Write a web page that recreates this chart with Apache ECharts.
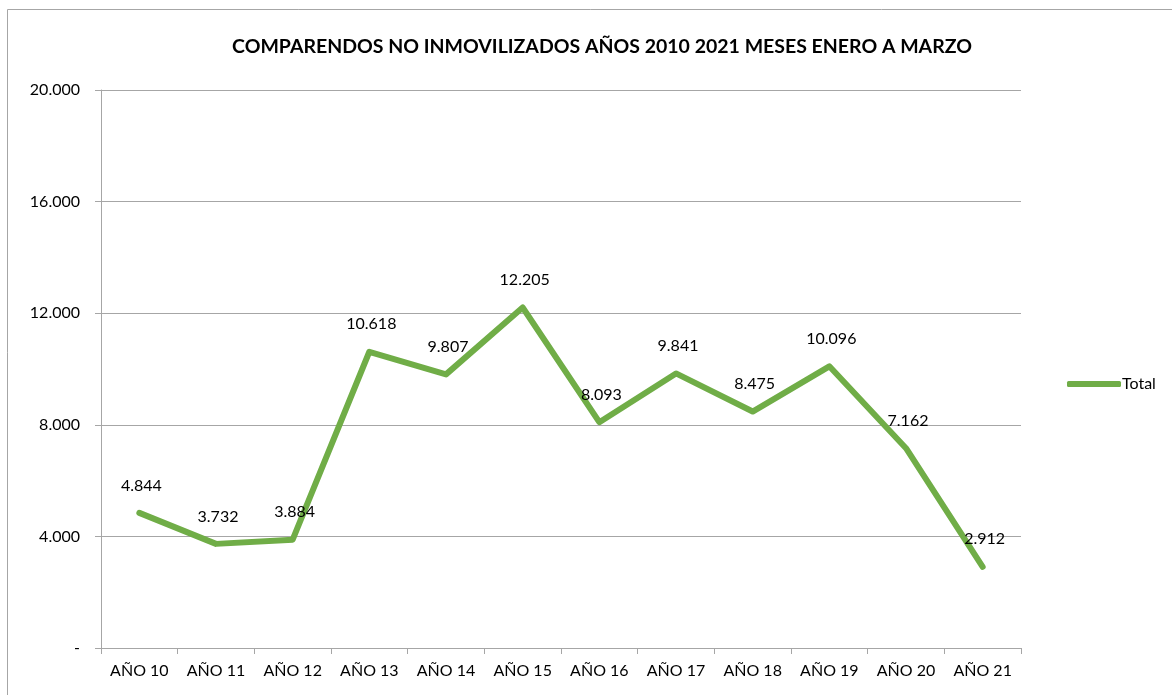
<!DOCTYPE html>
<html>
<head>
<meta charset="utf-8">
<script src="https://cdn.jsdelivr.net/npm/echarts@6/dist/echarts.min.js"></script>
<style>
  html, body { margin: 0; padding: 0; background: #fff; }
  #chart { width: 1172px; height: 695px; }
</style>
</head>
<body>
<div id="chart"></div>
<script>
// datos del gráfico
var categorias = ["AÑO 10", "AÑO 11", "AÑO 12", "AÑO 13", "AÑO 14", "AÑO 15",
  "AÑO 16", "AÑO 17", "AÑO 18", "AÑO 19", "AÑO 20", "AÑO 21"];
var total = [4844, 3732, 3884, 10618, 9807, 12205, 8093, 9841, 8475, 10096, 7162, 2912];
var titulo = "COMPARENDOS NO INMOVILIZADOS AÑOS 2010 2021 MESES ENERO A MARZO";

function miles(v) {
  if (v === 0) return "-";
  return String(v).replace(/\B(?=(\d{3})+(?!\d))/g, ".");
}

var mychart = echarts.init(document.getElementById("chart"));
var fuente = "Lato, 'Open Sans', sans-serif";
var option = {
  animation: false,
  textStyle: { fontFamily: fuente },
  graphic: [
    {
      type: "rect",
      shape: { x: 7.5, y: 9.5, width: 1200, height: 720 },
      style: { fill: "none", stroke: "#a6a6a6", lineWidth: 1 },
      silent: true
    }
  ],
  title: {
    text: titulo,
    left: 597,
    top: 32,
    textAlign: "center",
    textStyle: { fontFamily: fuente, fontSize: 19.5, fontWeight: "bold", color: "#000" }
  },
  legend: {
    data: ["Total"],
    left: 1062,
    top: 371,
    itemWidth: 54,
    itemHeight: 6,
    itemGap: 4,
    icon: "roundRect",
    textStyle: { fontFamily: fuente, fontSize: 16, color: "#000", padding: [0, 0, 0, -4] }
  },
  grid: { left: 101, right: 151, top: 90, bottom: 47 },
  xAxis: {
    type: "category",
    data: categorias,
    boundaryGap: true,
    axisLine: { lineStyle: { color: "#a6a6a6", width: 1 } },
    axisTick: { show: true, length: 6, lineStyle: { color: "#a6a6a6" } },
    axisLabel: { color: "#000", fontSize: 16, margin: 15, fontFamily: fuente }
  },
  yAxis: {
    type: "value",
    min: 0,
    max: 20000,
    interval: 4000,
    axisLine: { show: true, lineStyle: { color: "#a6a6a6", width: 1 } },
    axisTick: { show: true, length: 6, lineStyle: { color: "#a6a6a6" } },
    splitLine: { lineStyle: { color: "#a6a6a6", width: 1 } },
    axisLabel: { color: "#000", fontSize: 16, margin: 21, fontFamily: fuente, formatter: miles }
  },
  series: [
    {
      name: "Total",
      type: "line",
      data: total,
      symbol: "circle",
      symbolSize: 1,
      color: "#70ad47",
      lineStyle: { width: 6, color: "#70ad47", cap: "round", join: "round" },
      label: {
        show: true,
        position: "top",
        distance: 19,
        offset: [2, 0],
        color: "#000",
        fontSize: 16,
        fontFamily: fuente,
        formatter: function (p) { return miles(p.value); }
      }
    }
  ]
};
mychart.setOption(option);
</script>
</body>
</html>
